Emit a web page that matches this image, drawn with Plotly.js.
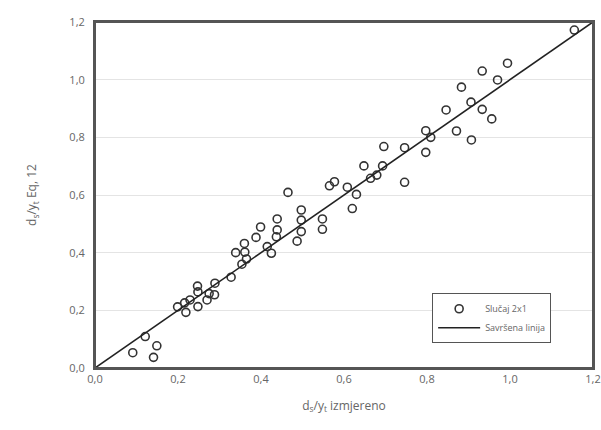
<!DOCTYPE html>
<html>
<head>
<meta charset="utf-8">
<script src="https://cdn.plot.ly/plotly-3.0.1.min.js"></script>
<style>html,body{margin:0;padding:0;background:#fff;}#chart{width:601px;height:430px;}</style>
</head>
<body>
<div id="chart"></div>
<script>
// Measured d_s/y_t
const measured = [0.091,0.121,0.149,0.141,0.199,0.219,0.216,0.229,0.247,0.248,0.248,0.270,0.275,0.288,0.289,0.328,0.339,0.354,0.360,0.361,0.365,0.388,0.399,0.415,0.425,0.439,0.439,0.437,0.465,0.497,0.497,0.497,0.487,0.548,0.548,0.565,0.577,0.608,0.630,0.620,0.648,0.664,0.679,0.693,0.696,0.746,0.746,0.797,0.797,0.809,0.846,0.871,0.883,0.906,0.907,0.933,0.933,0.956,0.970,0.994,1.155];
// Computed d_s/y_t (Eq. 12)
const computed = [0.053,0.109,0.077,0.037,0.212,0.193,0.226,0.236,0.284,0.264,0.213,0.236,0.258,0.254,0.294,0.315,0.400,0.360,0.432,0.402,0.378,0.453,0.489,0.421,0.398,0.517,0.479,0.455,0.609,0.548,0.513,0.473,0.440,0.517,0.481,0.632,0.646,0.627,0.602,0.553,0.701,0.658,0.669,0.701,0.768,0.764,0.644,0.823,0.748,0.800,0.895,0.822,0.974,0.922,0.791,1.030,0.897,0.864,0.999,1.057,1.172];
const perfectLine = [0, 1.2];
const seriesNames = ["Slučaj 2x1", "Savršena linija"];
const tickVals = [0, 0.2, 0.4, 0.6, 0.8, 1.0, 1.2];

const fontFam = "'Open Sans', 'DejaVu Sans', sans-serif";
const traces = [
  {x: measured, y: computed, mode: 'markers', type: 'scatter', name: seriesNames[0],
   marker: {symbol: 'circle-open', size: 8, color: '#333', line: {width: 1.6, color: '#333'}}},
  {x: perfectLine, y: perfectLine, mode: 'lines', type: 'scatter', name: seriesNames[1],
   line: {color: '#222', width: 1.6}}
];
const axisCommon = {
  range: [0, 1.2], tickvals: tickVals, tickformat: '.1f',
  showline: true, mirror: true, linecolor: '#555', linewidth: 2,
  ticks: '', zeroline: false,
  tickfont: {family: fontFam, size: 11, color: '#666'}
};
const layout = {
  width: 601, height: 430,
  margin: {l: 95, r: 8, t: 22, b: 62},
  separators: ',.',
  paper_bgcolor: '#fff', plot_bgcolor: '#fff',
  showlegend: true,
  legend: {x: 0.677, y: 0.216, xanchor: 'left', yanchor: 'top',
    bordercolor: '#555', borderwidth: 1, bgcolor: '#fff',
    font: {family: fontFam, size: 9, color: '#666'}, tracegroupgap: 0, itemwidth: 42},
  xaxis: Object.assign({}, axisCommon, {showgrid: false,
    title: {text: 'd<sub>s</sub>/y<sub>t</sub> izmjereno', font: {family: fontFam, size: 12, color: '#666'}, standoff: 16}}),
  yaxis: Object.assign({}, axisCommon, {showgrid: true, gridcolor: '#e4e4e4', gridwidth: 1,
    ticklabelstandoff: 6,
    title: {text: 'd<sub>s</sub>/y<sub>t</sub> Eq, 12', font: {family: fontFam, size: 12, color: '#666'}, standoff: 30}}),
  shapes: [{type: 'rect', xref: 'paper', yref: 'paper', x0: 0, x1: 1, y0: 0, y1: 1,
    line: {color: '#555', width: 2}, fillcolor: 'rgba(0,0,0,0)', layer: 'above'}]
};
Plotly.newPlot('chart', traces, layout, {displayModeBar: false, staticPlot: true});
</script>
</body>
</html>
